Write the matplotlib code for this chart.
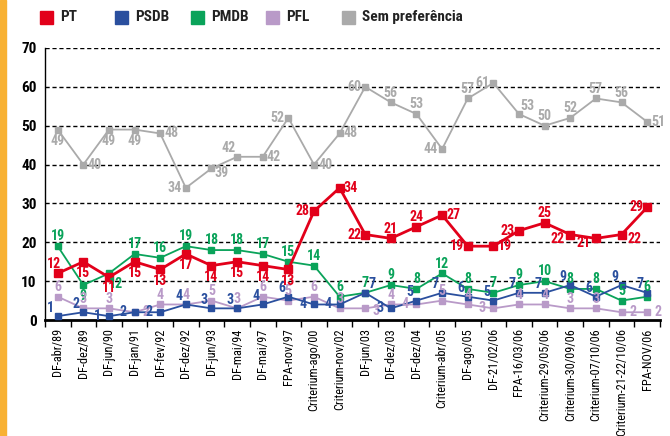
import matplotlib
matplotlib.use("Agg")
import matplotlib.pyplot as plt
from matplotlib import font_manager
from matplotlib.patches import Rectangle
import numpy as np

# narrow font if there is one
fonte = "DejaVu Sans"
for f in ["Liberation Sans Narrow", "Roboto Condensed", "DejaVu Sans Condensed"]:
    try:
        font_manager.findfont(font_manager.FontProperties(family=f), fallback_to_default=False)
        fonte = f
        break
    except ValueError:
        pass
plt.rcParams['font.family'] = [fonte, 'DejaVu Sans']

pesquisas = ["DF-abr/89", "DF-dez/89", "DF-jun/90", "DF-jan/91", "DF-fev/92",
             "DF-dez/92", "DF-jun/93", "DF-mai/94", "DF-mai/97", "FPA-nov/97",
             "Criterium-ago/00", "Criterium-nov/02", "DF-jun/03", "DF-dez/03",
             "DF-dez/04", "Criterium-abr/05", "DF-ago/05", "DF-21/02/06",
             "FPA-16/03/06", "Criterium-29/05/06", "Criterium-30/09/06",
             "Criterium-07/10/06", "Criterium-21-22/10/06", "FPA-NOV/06"]

pt = [12, 15, 11, 15, 13, 17, 14, 15, 14, 13, 28, 34, 22, 21, 24, 27, 19, 19, 23, 25, 22, 21, 22, 29]
psdb = [1, 2, 1, 2, 2, 4, 3, 3, 4, 6, 4, 4, 7, 3, 5, 7, 6, 5, 7, 7, 9, 6, 9, 7]
pmdb = [19, 9, 12, 17, 16, 19, 18, 18, 17, 15, 14, 6, 7, 9, 8, 12, 8, 7, 9, 10, 8, 8, 5, 6]
pfl = [6, 3, 3, 2, 4, 4, 5, 3, 6, 5, 6, 3, 3, 4, 4, 5, 4, 3, 4, 4, 3, 3, 2, 2]
sem_pref = [49, 40, 49, 49, 48, 34, 39, 42, 42, 52, 40, 48, 60, 56, 53, 44, 57, 61, 53, 50, 52, 57, 56, 51]

# label offsets (points): default per series + overrides by index
L, R, U, D = (-8, 0), (8, 0), (0, 7), (0, -8)
series = [
    ("Sem preferência", sem_pref, "#aaaaaa", D,
     {1: R, 4: R, 5: L, 6: (7, -3), 7: (-6, 6), 8: R, 9: L, 10: R, 11: R, 12: L,
      13: U, 14: U, 15: L, 16: U, 17: L, 18: (6, 6), 19: U, 20: U, 21: U, 22: U, 23: R}),
    ("PMDB", pmdb, "#0aa35a", U, {1: (0, -8), 2: (5, -8)}),
    ("PFL", pfl, "#b99ac8", U, {3: R, 12: (8, -2), 14: L, 17: L, 22: R, 23: R}),
    ("PSDB", psdb, "#2a4f9e", (-5, 6), {2: L, 3: L, 4: L, 10: L, 11: L, 12: (5, 6), 13: L}),
    ("PT", pt, "#e2001a", D,
     {0: (-3, 7), 10: L, 11: R, 12: L, 13: U, 14: U, 15: R, 16: L, 17: R,
      18: L, 19: U, 20: (-9, -3), 21: (-9, -3), 22: (9, -3), 23: L}),
]

fig = plt.figure(figsize=(6.7, 4.36), dpi=100)
ax = fig.add_axes([0.067, 0.266, 0.918, 0.624])

x = np.arange(len(pesquisas))
for nome, vals, cor, off, extra in series:
    lw = 2.0 if nome == "PT" else 1.3
    ms = 5.5 if nome == "PT" else 5
    ax.plot(x, vals, color=cor, lw=lw, marker="s", ms=ms, zorder=3)
    for i, v in enumerate(vals):
        dx, dy = extra.get(i, off)
        ax.annotate(str(v), (i, v), xytext=(dx, dy), textcoords="offset points",
                    ha="center", va="center", fontsize=10, fontweight="bold",
                    color=cor, zorder=4)

ax.set_xlim(-0.5, len(pesquisas) - 0.5)
ax.set_ylim(0, 70)
ax.set_yticks(range(0, 71, 10))
ax.tick_params(axis="y", length=0, labelsize=11, pad=6)
for t in ax.get_yticklabels():
    t.set_fontweight("bold")
ax.set_xticks(x)
ax.set_xticklabels(pesquisas, rotation=90, fontsize=8.8)
ax.tick_params(axis="x", which="major", length=0, pad=6)
ax.set_xticks(np.arange(-0.5, len(pesquisas), 1), minor=True)
ax.tick_params(axis="x", which="minor", length=5, width=1, direction="out")
for yv in range(10, 71, 10):
    ax.axhline(yv, color="black", lw=1, ls=(0, (3, 2)), zorder=1)
for s in ["top", "right"]:
    ax.spines[s].set_visible(False)
ax.spines["bottom"].set_linewidth(2)
ax.spines["left"].set_linewidth(1)

# orange side bar
fig.patches.append(Rectangle((0, 0), 6 / 670, 1, transform=fig.transFigure,
                             color="#f8b133", zorder=0))

# legend across top
leg = [("PT", "#e2001a", 40), ("PSDB", "#2a4f9e", 115), ("PMDB", "#0aa35a", 191),
       ("PFL", "#b99ac8", 266), ("Sem preferência", "#aaaaaa", 342)]
for nome, cor, px in leg:
    fig.patches.append(Rectangle((px / 670, 1 - 24 / 436), 13 / 670, 13 / 436,
                                 transform=fig.transFigure, color=cor))
    fig.text((px + 20) / 670, 1 - 17 / 436, nome, fontsize=11, fontweight="bold",
             va="center", ha="left", color="#222222")

fig.savefig("out.png", dpi=100)
